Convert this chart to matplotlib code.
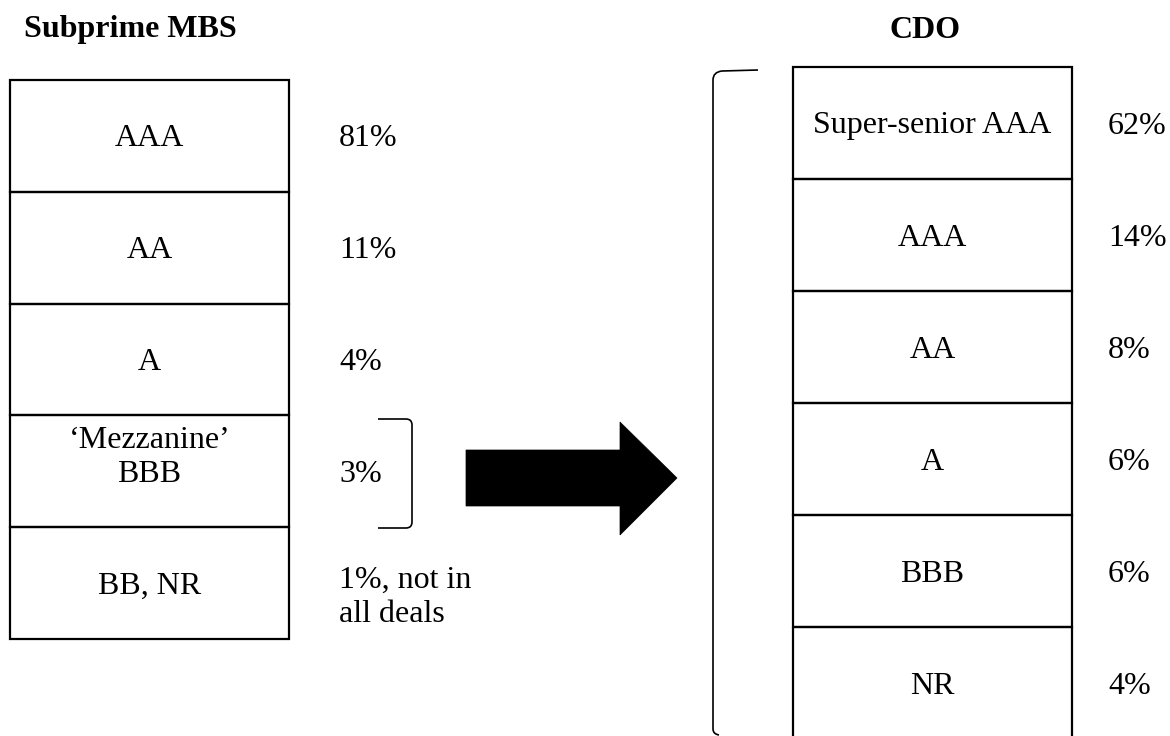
import matplotlib
matplotlib.use("Agg")
import matplotlib.pyplot as plt
from matplotlib.patches import Rectangle, Polygon, PathPatch
from matplotlib.path import Path

# ---- data ----
left_title = "Subprime MBS"
left_tranches = ["AAA", "AA", "A", "\u2018Mezzanine\u2019\nBBB", "BB, NR"]
left_shares = ["81%", "11%", "4%", "3%", "1%, not in\nall deals"]

right_title = "CDO"
right_tranches = ["Super-senior AAA", "AAA", "AA", "A", "BBB", "NR"]
right_shares = ["62%", "14%", "8%", "6%", "6%", "4%"]

# ---- layout (pixel units) ----
W, H = 1170, 736
FS = 23
DY = 3          # vertical text correction
LS = 1.2
plt.rcParams['font.family'] = ['Liberation Serif', 'DejaVu Serif']

fig = plt.figure(figsize=(W / 100, H / 100), dpi=100)
ax = fig.add_axes([0, 0, 1, 1])
ax.set_xlim(0, W)
ax.set_ylim(H, 0)
ax.axis('off')

LW = 1.6

def stack(x0, x1, y0, row_h, labels, shares, share_x, share_dy=0):
    for i, (lab, sh) in enumerate(zip(labels, shares)):
        ytop = y0 + i * row_h
        ax.add_patch(Rectangle((x0, ytop), x1 - x0, row_h, fill=False,
                               edgecolor='black', lw=LW, clip_on=True))
        yc = ytop + row_h / 2 + DY
        if "\n" in lab:
            ax.text((x0 + x1) / 2, ytop + 11, lab, ha='center', va='top',
                    fontsize=FS, linespacing=LS)
        else:
            ax.text((x0 + x1) / 2, yc, lab, ha='center', va='center',
                    fontsize=FS)
        if "\n" in sh:
            ax.text(share_x, ytop + 39, sh, ha='left', va='top',
                    fontsize=FS, linespacing=LS)
        else:
            ax.text(share_x, yc + share_dy, sh, ha='left', va='center',
                    fontsize=FS)

# left stack
stack(10, 289, 80, 111.8, left_tranches, left_shares, 339)
# right stack
stack(793, 1072, 67, 112, right_tranches, right_shares, 1108, share_dy=1)

# titles
ax.text(24, 27 + DY, left_title, ha='left', va='center', fontsize=FS, fontweight='bold')
ax.text(925, 27 + DY, right_title, ha='center', va='center', fontsize=FS, fontweight='bold')

# small bracket next to mezzanine
verts = [(378, 419), (406, 419), (412, 419), (412, 425),
         (412, 522), (412, 528), (406, 528), (378, 528)]
codes = [Path.MOVETO, Path.LINETO, Path.CURVE3, Path.CURVE3,
         Path.LINETO, Path.CURVE3, Path.CURVE3, Path.LINETO]
ax.add_patch(PathPatch(Path(verts, codes), fill=False, lw=1.2, edgecolor='black'))

# big bracket around CDO
verts = [(758, 70), (722, 71), (713, 72), (713, 80),
         (713, 729), (713, 734), (719, 735)]
codes = [Path.MOVETO, Path.LINETO, Path.CURVE3, Path.CURVE3,
         Path.LINETO, Path.CURVE3, Path.CURVE3]
ax.add_patch(PathPatch(Path(verts, codes), fill=False, lw=1.2, edgecolor='black'))

# arrow
arrow = [(466, 450), (620, 450), (620, 422), (677, 478),
         (620, 535), (620, 506), (466, 506)]
ax.add_patch(Polygon(arrow, closed=True, facecolor='black', edgecolor='black', lw=0.5))

fig.savefig("out.png", dpi=100, facecolor='white')
